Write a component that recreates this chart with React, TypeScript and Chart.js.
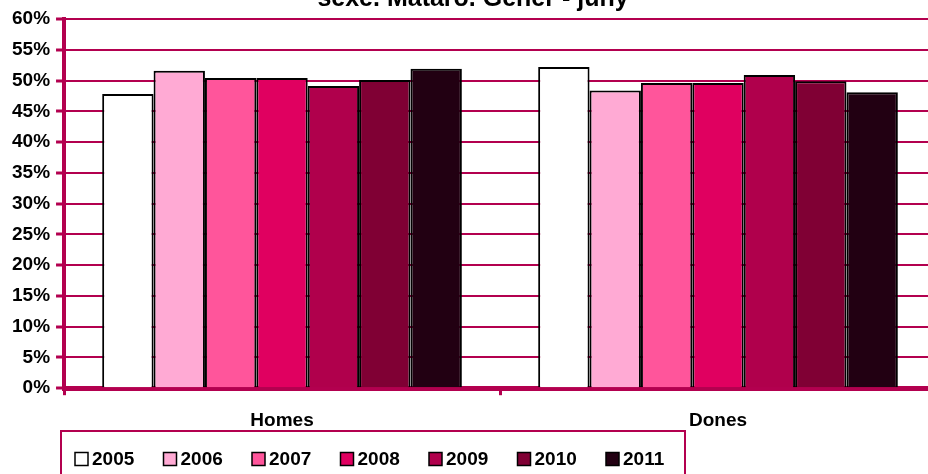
import React, { useEffect, useRef } from "react";
import { Chart, registerables } from "chart.js";

Chart.register(...registerables);

const categories = ["Homes", "Dones"];
const years = ["2005", "2006", "2007", "2008", "2009", "2010", "2011"];
const homes = [47.8, 51.6, 50.4, 50.4, 49.1, 50.1, 51.9];
const dones = [52.2, 48.4, 49.6, 49.6, 50.9, 49.9, 48.1];
const yearColors = ["#FFFFFF", "#FFAAD4", "#FF559B", "#E00060", "#B0004C", "#800034", "#220012"];
const yTicks = [0, 5, 10, 15, 20, 25, 30, 35, 40, 45, 50, 55, 60];
const titleText = "sexe. Mataró. Gener - juny";

const CRIMSON = "#B3004F";
const FONT = '"Liberation Sans", Arial, sans-serif';

const titlePlugin = {
  id: "clippedTitle",
  afterDraw(chart: any) {
    const ctx = chart.ctx;
    ctx.save();
    ctx.font = `bold 25px ${FONT}`;
    ctx.fillStyle = "#000";
    ctx.textAlign = "center";
    ctx.textBaseline = "alphabetic";
    ctx.fillText(titleText, 473, 6);
    ctx.restore();
  },
};

const legendPlugin = {
  id: "boxLegend",
  afterDraw(chart: any) {
    const ctx = chart.ctx;
    ctx.save();
    ctx.strokeStyle = CRIMSON;
    ctx.lineWidth = 2;
    ctx.strokeRect(61, 431, 624, 60);
    ctx.font = `bold 19px ${FONT}`;
    ctx.textBaseline = "middle";
    ctx.textAlign = "left";
    chart.data.datasets.forEach((ds: any, i: number) => {
      const x = 75 + i * 88.5;
      const y = 459;
      ctx.fillStyle = ds.backgroundColor;
      ctx.fillRect(x, y - 6.5, 13, 13);
      ctx.strokeStyle = "#000";
      ctx.lineWidth = 1.5;
      ctx.strokeRect(x, y - 6.5, 13, 13);
      ctx.fillStyle = "#000";
      ctx.fillText(ds.label, x + 17, y + 1);
    });
    ctx.restore();
  },
};

export default function App() {
  const ref = useRef<HTMLCanvasElement | null>(null);
  useEffect(() => {
    if (!ref.current) return;
    const datasets = years.map((y, i) => ({
      label: y,
      data: [homes[i], dones[i]],
      backgroundColor: yearColors[i],
      borderColor: "#000",
      borderWidth: 2,
      barPercentage: 1,
      categoryPercentage: 0.825,
    }));
    const chart = new Chart(ref.current, {
      type: "bar",
      data: { labels: categories, datasets },
      options: {
        animation: false,
        responsive: false,
        devicePixelRatio: 1,
        layout: { padding: { left: 6, right: 0, top: 19, bottom: 28 } },
        plugins: { legend: { display: false }, title: { display: false }, tooltip: { enabled: false } },
        scales: {
          x: {
            grid: {
              display: true,
              drawOnChartArea: false,
              drawTicks: true,
              tickLength: 7,
              tickColor: CRIMSON,
              tickWidth: 3,
              offset: true,
            },
            border: { color: CRIMSON, width: 5 },
            ticks: { color: "#000", font: { family: FONT, size: 19, weight: "bold" }, padding: 14 },
          },
          y: {
            min: 0,
            max: 60,
            afterBuildTicks(axis: any) {
              axis.ticks = yTicks.map((v) => ({ value: v }));
            },
            grid: {
              color: CRIMSON,
              lineWidth: 2,
              tickLength: 8,
              tickColor: CRIMSON,
              tickWidth: 3,
            },
            border: { color: CRIMSON, width: 4 },
            ticks: {
              color: "#000",
              font: { family: FONT, size: 19, weight: "bold" },
              padding: 6,
              callback: (v: any) => `${v}%`,
            },
          },
        },
      },
      plugins: [titlePlugin, legendPlugin],
    });
    return () => chart.destroy();
  }, []);
  return (
    <div style={{ position: "fixed", left: 0, top: 0, width: 928, height: 474, overflow: "hidden", background: "#fff" }}>
      <canvas ref={ref} width={936} height={474} style={{ display: "block" }} />
    </div>
  );
}
